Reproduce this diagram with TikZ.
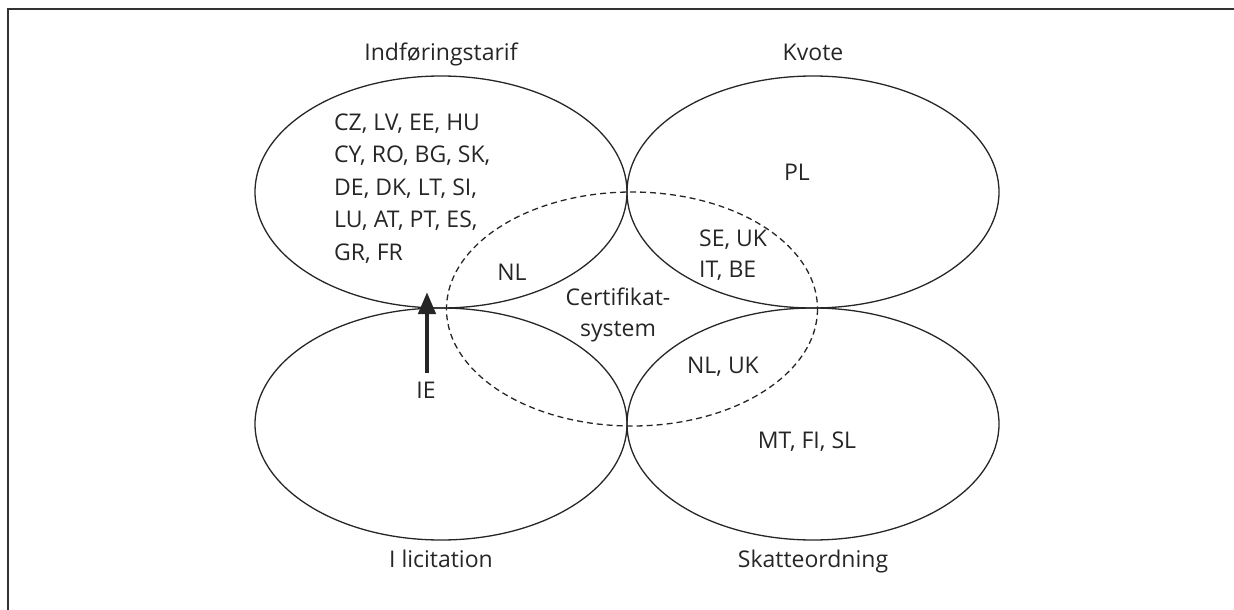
\documentclass[tikz,border=0pt]{standalone}
\usepackage{fontspec}
\setmainfont{Open Sans}
\usetikzlibrary{arrows.meta}
\begin{document}
\begin{tikzpicture}[x=1pt,y=-1pt,
  venn/.style={line width=1.3pt, draw=black!85},
  lbl/.style={anchor=base, inner sep=0pt, font=\fontsize{23}{32.5}\selectfont, text=black!85},
  frame/.style={line width=1.6pt, draw=black!80}]
\useasboundingbox (0,0) rectangle (1234,610);
\draw[frame] (8,612) -- (8,9) -- (1236,9);
% ellipses
\draw[venn] (441,192) ellipse [x radius=186, y radius=116];
\draw[venn] (813,192) ellipse [x radius=186, y radius=116];
\draw[venn] (441,424) ellipse [x radius=186, y radius=116];
\draw[venn] (813,424) ellipse [x radius=186, y radius=116];
\draw[venn, dashed, dash pattern=on 6pt off 4pt] (632,309) ellipse [x radius=185.5, y radius=117];
% titles
\node[lbl] (t1) at (441,60) {Indføringstarif};
\node[lbl] (t2) at (813,60) {Kvote};
\node[lbl] (t3) at (441,567) {I licitation};
\node[lbl] (t4) at (813,567) {Skatteordning};
% contents
\node[lbl] (l1) at (334,130) [anchor=base west] {CZ, LV, EE, HU};
\node[lbl] (l2) at (334,162.5) [anchor=base west] {CY, RO, BG, SK,};
\node[lbl] (l3) at (334,195) [anchor=base west] {DE, DK, LT, SI,};
\node[lbl] (l4) at (334,227.5) [anchor=base west] {LU, AT, PT, ES,};
\node[lbl] (l5) at (334,260) [anchor=base west] {GR, FR};
\node[lbl] (pl) at (797,180) {PL};
\node[lbl] (nl) at (512,280) {NL};
\node[lbl] (se) at (699,246) [anchor=base west] {SE, UK};
\node[lbl] (it) at (699,277) [anchor=base west] {IT, BE};
\node[lbl] (c1) at (618,305) {Certifikat-};
\node[lbl] (c2) at (618,336) {system};
\node[lbl] (nluk) at (723,373) {NL, UK};
\node[lbl] (mt) at (807,448) {MT, FI, SL};
\node[lbl] (ie) at (426,398) {IE};
% arrow
\coordinate (a0) at (427,373);
\coordinate (a1) at (427,292);
\draw[line width=4.5pt, draw=black!85, -{Triangle[width=17pt,length=22pt]}] (a0) -- (a1);
\end{tikzpicture}
\end{document}
